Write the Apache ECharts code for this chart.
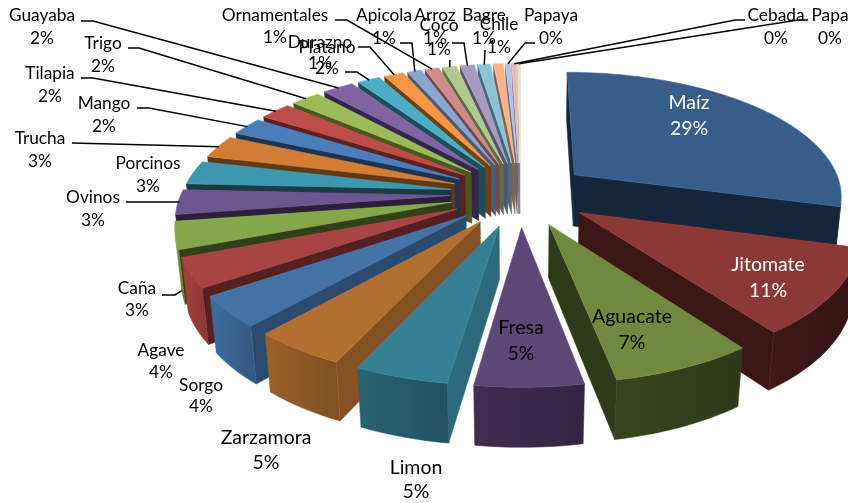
<!DOCTYPE html>
<html><head><meta charset="utf-8">
<style>html,body{margin:0;padding:0;background:#fff;overflow:hidden}#c{width:848px;height:503px}</style>
<script src="https://cdn.jsdelivr.net/npm/echarts@6/dist/echarts.min.js"></script>
</head><body><div id="c"></div>
<script>
// DATA
const names = ['Maíz','Jitomate','Aguacate','Fresa','Limon','Zarzamora','Sorgo','Agave','Caña','Ovinos','Porcinos','Trucha','Mango','Tilapia','Trigo','Guayaba','Platano','Durazno','Apicola','Ornamentales','Coco','Arroz','Bagre','Chile','Papaya','Cebada','Papa'];
const values = [29,10.7,7,5.3,4.6,4.6,3.9,3.7,3.4,3.1,3,2.9,2.3,2.2,2.05,2.2,1.6,1.4,1,1,1,1,0.9,0.7,0.35,0.35,0.15];
// STYLE
const topColors = ['#385d8a','#8c3836','#71893f','#5c4776','#357f92','#b36f30','#4472a5','#a84542','#86a64b','#6d5590','#3d97ae','#d17d34','#4a7ebb','#bd4d49','#9bbb59','#8064a2','#4bacc6','#f79646','#8ba5d1','#ce8b89','#b0c98c','#a79bc0','#8cc3d6','#f9b48c','#aec3e6','#e4b8b7','#d7e4bd'];
const radialColors = ['#16263a','#3a1615','#2f3a1a','#36274a','#2b6a7a','#855022','#2c4a70','#552021','#323f1b','#2c1f3a','#1a3a44','#5f3a16','#1f3350','#5a2120','#48581f','#33274a','#1f4c5a','#6e4014','#4a5a78','#6e4a48','#5c6e44','#5a5070','#4a6a78','#8a6048','#5a6a88','#7a6060','#7a8468'];
const outerColors = ['#16263a','#3a1615','#33401c','#3a2a4d','#265c6a','#8f5a27','#3a6494','#9a3d3b','#6f8a3c','#2c1f3a','#1a3a44','#5f3a16','#1f3350','#5a2120','#48581f','#33274a','#1f4c5a','#6e4014','#4a5a78','#6e4a48','#5c6e44','#5a5070','#4a6a78','#8a6048','#5a6a88','#7a6060','#7a8468'];
// label layout: [x, name y, percent y, font size, colour]
const labelLayout = [[689,103,129,19.5,'#fff'],[768,265,291,19.5,'#fff'],[632,317,343,19.5,'#000'],[521,328,354,19.5,'#000'],[416,468,492,19.5,'#000'],[266,438,463,19.5,'#000'],[201,385,406,17.3,'#000'],[161,350,372,17.3,'#000'],[137,288,310,17.3,'#000'],[93,197,220,17.3,'#000'],[148,163,186,17.3,'#000'],[40,138,161,17.3,'#000'],[104,103,126,17.3,'#000'],[50,73,96,17.3,'#000'],[103,43,66,17.3,'#000'],[42,15,38,17.3,'#000'],[327,47,68,17.3,'#000'],[320,42,63,17.3,'#000'],[384,15,38,17.3,'#000'],[275,15,37,17.3,'#000'],[439,25,49,17.3,'#000'],[435,15,38,17.3,'#000'],[484,15,38,17.3,'#000'],[499,24,47,17.3,'#000'],[551,15,38,17.3,'#000'],[776,15,38,17.3,'#000'],[830,15,38,17.3,'#000']];
// leader elbows in page pixels; the last point is computed from the slice
const leaders = {8:[[162,295],[175,295],[186,288]],9:[[126,202]],11:[[72,143]],12:[[137,108],[149,108]],13:[[81,78],[93,78]],14:[[128,48],[139,48]],15:[[81,21],[93,21]],16:[[345,72],[357,72]],17:[[358,47],[370,47]],18:[[400,43],[412,43]],19:[[335,20],[347,20]],20:[[450,60]],21:[[452,43],[464,43]],22:[[485,50]],24:[[535,43],[525,43]],25:[[745,20],[735,20]],26:[[808,20],[798,20]]};

// projection parameters
const cx=520, cy=194, K=0.00057, B=0.46, A=1.0, E=70, R=269, H=53, M=0.018;
function proj(X,Y,z){ // z = 0 on top face, 1 at the bottom
  const w=1+K*Y+M*z;
  return [cx+A*X/w, cy+(-B*Y+H*z)/w];
}
function shade(hex,f){const n=parseInt(hex.slice(1),16);const c=[n>>16,(n>>8)&255,n&255].map(v=>Math.min(255,Math.round(v*f)));return 'rgb('+c.join(',')+')';}
const total=values.reduce((a,b)=>a+b,0);
let cum=0;
const slices=values.map((v,i)=>{const a0=cum/total*2*Math.PI;cum+=v;const a1=cum/total*2*Math.PI;const m=(a0+a1)/2;
  return {a0,a1,m,ox:E*Math.sin(m),oy:E*Math.cos(m),i};});
const rank=slices.map(s=>s).sort((a,b)=>(b.oy+R*0.6*Math.cos(b.m))-(a.oy+R*0.6*Math.cos(a.m)));
const rankOf={};rank.forEach((s,k)=>rankOf[s.i]=k);
function area(p){let s=0;for(let i=0;i<p.length;i++){const q=p[(i+1)%p.length];s+=p[i][0]*q[1]-q[0]*p[i][1];}return s/2;}
function poly(points,fill,z2,stroke,lw){return {type:'polygon',shape:{points},z2,silent:true,style:{fill,stroke:stroke||fill,lineWidth:lw===undefined?0.5:lw}};}
function renderItem(params,api){
  const i=params.dataIndex, s=slices[i], z=10+rankOf[i]*5, kids=[];
  const P=(a,r,zz)=>proj(s.ox+r*Math.sin(a),s.oy+r*Math.cos(a),zz);
  const n=Math.max(2,Math.ceil((s.a1-s.a0)/0.03));
  const arc=[];for(let k=0;k<=n;k++)arc.push(s.a0+(s.a1-s.a0)*k/n);
  const apexT=P(0,0,0),apexB=P(0,0,1);
  const w0=[apexT,P(s.a0,R,0),P(s.a0,R,1),apexB];
  const w1=[P(s.a1,R,0),apexT,apexB,P(s.a1,R,1)];
  if(area(w0)<0)kids.push(poly(w0,radialColors[i],z));
  if(area(w1)<0)kids.push(poly(w1,radialColors[i],z));
  const run=[];
  for(let k=0;k<n;k++){const q=[P(arc[k],R,0),P(arc[k+1],R,0),P(arc[k+1],R,1),P(arc[k],R,1)];if(area(q)<0)run.push(k);}
  if(run.length){
    const top=[],bot=[];
    for(let k=run[0];k<=run[run.length-1]+1;k++){top.push(P(arc[k],R,0));bot.unshift(P(arc[k],R,1));}
    const base=outerColors[i];
    const fill=new echarts.graphic.LinearGradient(0,0,1,0,[{offset:0,color:shade(base,1.08)},{offset:1,color:shade(base,0.88)}]);
    kids.push(poly(top.concat(bot),fill,z+1,base));
  }
  const face=[apexT];arc.forEach(a=>face.push(P(a,R,0)));
  kids.push(poly(face,topColors[i],z+2,shade(topColors[i],1.12),0.6));
  if(leaders[i]){
    const end=P(s.m,R*0.995,0);
    kids.push({type:'polyline',shape:{points:leaders[i].concat([end])},z2:i===8?z-1:900,silent:true,style:{stroke:'#000',lineWidth:1.5,fill:null}});
  }
  const L=labelLayout[i];
  const font=L[3]+'px Lato, "Open Sans", sans-serif';
  kids.push({type:'text',z2:1000,silent:true,style:{text:names[i],x:L[0],y:L[1],align:'center',verticalAlign:'middle',fill:L[4],font}});
  kids.push({type:'text',z2:1000,silent:true,style:{text:Math.round(api.value(0)/total*100)+'%',x:L[0],y:L[2],align:'center',verticalAlign:'middle',fill:L[4],font}});
  return {type:'group',children:kids};
}
const chart=echarts.init(document.getElementById('c'),null,{renderer:'canvas'});
chart.setOption({animation:false,backgroundColor:'#fff',
  series:[{type:'custom',coordinateSystem:'none',data:values.map(v=>[v]),renderItem,silent:true,clip:false}]});
</script></body></html>
